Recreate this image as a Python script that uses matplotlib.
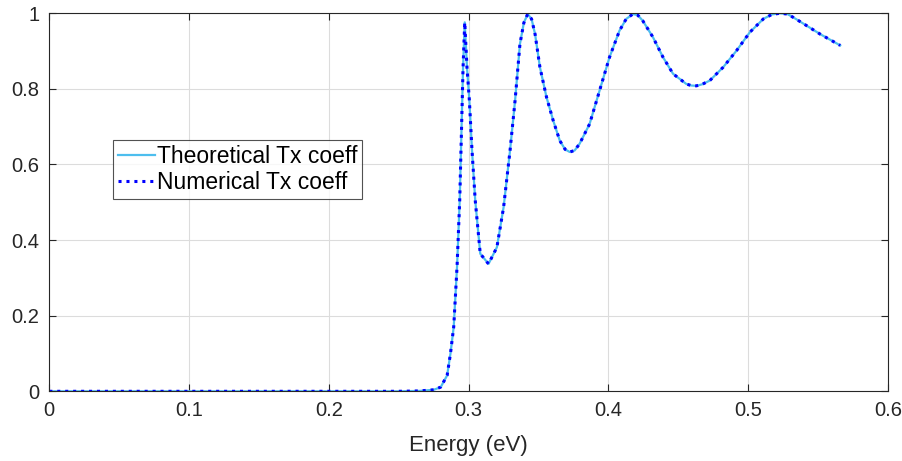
import numpy as np
import matplotlib
matplotlib.use("Agg")
from matplotlib import pyplot as plt

plt.rcParams['font.family'] = ['Liberation Sans', 'DejaVu Sans']

# energy (eV) and transmission coefficient
energy = [0.0, 0.05, 0.10, 0.15, 0.20, 0.25, 0.265, 0.275, 0.280, 0.2846, 0.287,
          0.2893, 0.2917, 0.2936, 0.2948, 0.296, 0.2972, 0.2988, 0.3005, 0.3024,
          0.3047, 0.3083, 0.3142, 0.3202, 0.325, 0.3296, 0.3332, 0.3367, 0.3395,
          0.3422, 0.345, 0.3475, 0.351, 0.3557, 0.3605, 0.3652, 0.369, 0.3723,
          0.3758, 0.3794, 0.3865, 0.3937, 0.4008, 0.4079, 0.4127, 0.4175, 0.421,
          0.4246, 0.4318, 0.439, 0.4462, 0.4557, 0.459, 0.4629, 0.467, 0.4725,
          0.482, 0.4916, 0.5012, 0.5108, 0.517, 0.5227, 0.528, 0.5323, 0.5419,
          0.5514, 0.5658]
tx = [0.0, 0.0, 0.0, 0.0, 0.0, 0.0, 0.001, 0.004, 0.011, 0.042, 0.10,
      0.17, 0.33, 0.505, 0.68, 0.857, 0.976, 0.857, 0.77, 0.637,
      0.505, 0.364, 0.337, 0.381, 0.487, 0.637, 0.769, 0.919, 0.975,
      0.998, 0.985, 0.945, 0.857, 0.778, 0.716, 0.663, 0.640, 0.633,
      0.637, 0.655, 0.707, 0.796, 0.884, 0.954, 0.985, 0.998, 0.995,
      0.98, 0.937, 0.884, 0.84, 0.813, 0.809, 0.808, 0.812, 0.822,
      0.857, 0.901, 0.95, 0.985, 0.997, 1.0, 0.998, 0.989, 0.967,
      0.945, 0.915]
xticks = [0, 0.1, 0.2, 0.3, 0.4, 0.5, 0.6]
xtick_labels = ['0', '0.1', '0.2', '0.3', '0.4', '0.5', '0.6']
yticks = [0, 0.2, 0.4, 0.6, 0.8, 1]
ytick_labels = ['0', '0.2', '0.4', '0.6', '0.8', '1']

fig = plt.figure(figsize=(9.03, 4.61), dpi=100)
ax = fig.add_axes([0.0546, 0.1512, 0.9288, 0.8200])

ax.plot(energy, tx, color='#4DBEEE', lw=1.6, label='Theoretical Tx coeff')
ax.plot(energy, tx, color='blue', lw=2.2, ls=(0, (1, 1.6)), label='Numerical Tx coeff')

ax.set_xlim(0, 0.6)
ax.set_ylim(0, 1)
ax.set_xticks(xticks)
ax.set_xticklabels(xtick_labels)
ax.set_yticks(yticks)
ax.set_yticklabels(ytick_labels)
ax.grid(True, color='#dcdcdc', lw=0.8)
ax.set_axisbelow(True)
ax.tick_params(direction='in', top=True, right=True, length=5, width=0.8,
               colors='#262626', labelsize=14.5, pad=7)
for s in ax.spines.values():
    s.set_color('#262626')
    s.set_linewidth(0.8)
ax.set_xlabel('Energy (eV)', fontsize=16, color='#262626', labelpad=11)

leg = ax.legend(loc='upper left', bbox_to_anchor=(0.0765, 0.664), fontsize=16.5,
                frameon=True, fancybox=False, edgecolor='#262626',
                handlelength=1.6, handletextpad=0.1, borderpad=0.2,
                labelspacing=0.15, borderaxespad=0)
leg.get_frame().set_linewidth(0.8)

fig.savefig('out.png', dpi=100)
